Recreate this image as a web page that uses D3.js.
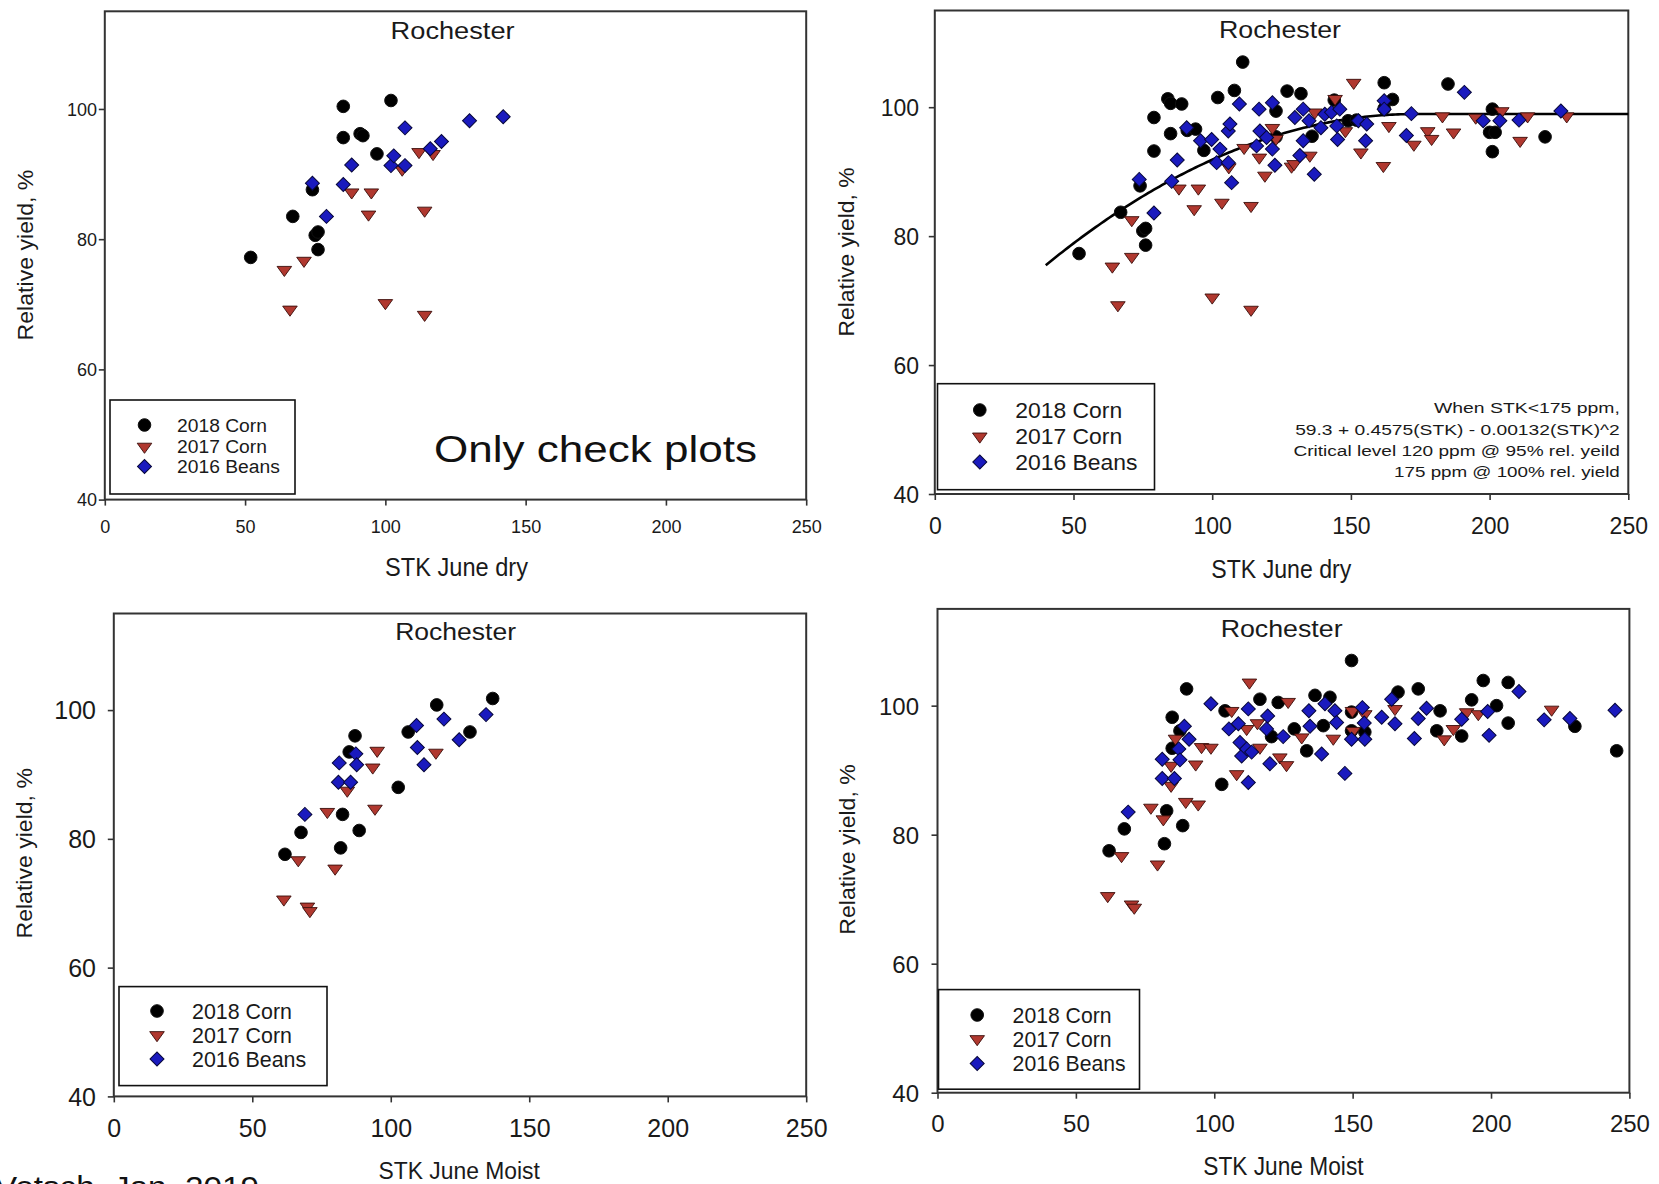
<!DOCTYPE html>
<html>
<head>
<meta charset="utf-8">
<script src="https://cdn.jsdelivr.net/npm/d3@7"></script>
<style>
  html, body { margin: 0; padding: 0; background: #fff; overflow: hidden; }
  svg { display: block; font-family: "Liberation Sans", Arial, sans-serif; }
</style>
</head>
<body>
<svg id="chart" width="1659" height="1184"></svg>
<script>
// ---- series, ticks and labels ----
const seriesNames = ["2018 Corn", "2017 Corn", "2016 Beans"];
const xTicks = [0, 50, 100, 150, 200, 250];
const yTicks = [40, 60, 80, 100];
const siteName = "Rochester";
const yTitleText = "Relative yield, %";

// STK June dry vs relative yield, check plots only  [STK ppm, rel. yield %]
const dryCheckCorn2018 = [[52,77.2],[67,83.5],[74,87.6],[75,80.6],[76,81.1],[76,78.4],[85,100.4],[85,95.6],[91,96.2],[92,95.9],[97,93.1],[102,101.3]];
const dryCheckCorn2017 = [[64,75.3],[66,69.2],[71,76.7],[88,87.2],[94,83.8],[95,87.2],[100,70.2],[106,90.7],[112,93.4],[114,84.4],[114,68.4],[117,93.1]];
const dryCheckBeans2016 = [[74,88.6],[79,83.5],[85,88.4],[88,91.4],[102,91.3],[103,92.8],[107,91.3],[107,97.1],[116,93.9],[120,95.0],[130,98.2],[142,98.8]];

// STK June dry vs relative yield, all plots
const dryAllCorn2018 = [[52,77.3],[67,83.7],[74,87.8],[75,80.8],[76,81.2],[76,78.6],[79,93.2],[79,98.4],[84,101.3],[85,100.6],[89,100.5],[85,95.9],[91,96.4],[94,96.6],[97,93.3],[102,101.5],[108,102.6],[111,107.0],[123,99.4],[123,95.4],[127,102.5],[132,102.1],[136,95.5],[144,101.1],[149,97.9],[152,98.0],[162,103.8],[165,101.2],[162,99.8],[185,103.6],[201,99.7],[200,96.1],[202,96.1],[201,93.1],[220,95.4]];
const dryAllCorn2017 = [[64,75.3],[66,69.3],[71,76.8],[71,82.5],[88,87.4],[93.5,84.2],[95,87.4],[100,70.5],[103.5,85.2],[106,90.7],[111.5,93.7],[114,84.7],[114,68.6],[117,92.2],[119,89.4],[121.7,96.8],[123,95.1],[128.6,90.8],[129.5,91.2],[135.2,92.5],[137,99.2],[144.3,101.3],[148,96.3],[151,103.8],[153.6,93.0],[161.7,90.9],[163.7,97.1],[172.7,94.2],[177.7,96.3],[179.1,95.1],[183,98.6],[187,96.1],[195,98.4],[204.4,99.4],[211,94.8],[213.7,98.6],[227.8,98.6]];
const dryAllBeans2016 = [[73.7,88.8],[79,83.6],[85.4,88.5],[87.4,91.8],[90.8,96.8],[95.8,94.8],[99.8,95.0],[101.6,91.4],[102.8,93.5],[105.8,91.4],[107,88.3],[105.8,96.3],[106.4,97.4],[109.8,100.5],[116.9,99.7],[116,94.0],[117.2,96.3],[119.6,95.3],[121.7,100.7],[121.7,93.5],[122.6,91.0],[129.8,98.4],[131.6,92.5],[132.8,99.7],[132.8,94.8],[134.9,97.9],[136.8,89.6],[139.2,96.8],[140.6,98.9],[143,99.2],[144.9,97.1],[145.2,95.0],[146,99.7],[152.7,97.9],[155.7,97.4],[155.3,94.8],[162,101.0],[162,99.7],[170,95.6],[171.8,99.0],[190.9,102.3],[197.7,97.9],[203.7,97.9],[210.6,98.0],[225.7,99.4]];

// STK June moist vs relative yield, check plots only
const moistCheckCorn2018 = [[61.8,77.6],[67.6,81.0],[81.9,78.6],[82.6,83.8],[85,93.5],[87.1,96.0],[88.6,81.3],[102.7,88.0],[106.3,96.6],[116.6,100.8],[128.6,96.6],[136.8,101.8]];
const moistCheckCorn2017 = [[61.4,70.6],[66.6,76.7],[69.9,69.5],[70.8,68.8],[77.1,84.2],[79.9,75.4],[84.3,87.5],[93.5,91.1],[94.3,84.7],[95.1,93.7],[116.3,93.4]];
const moistCheckBeans2016 = [[69,83.8],[81.1,88.8],[81.4,91.8],[85.5,88.8],[87.4,93.2],[87.7,91.5],[109.3,97.6],[109.6,94.2],[112,91.5],[119.2,98.6],[124.7,95.4],[134.4,99.3]];

// STK June moist vs relative yield, all plots
const moistAllCorn2018 = [[62,77.5],[67.5,80.9],[82,78.6],[82.8,83.7],[84.8,93.4],[84.8,98.2],[87.6,96.1],[88.6,81.4],[90,102.6],[102.7,87.8],[103.9,99.2],[116.5,101.0],[120.7,95.2],[123.1,100.5],[128.9,96.4],[133.4,93.0],[136.4,101.6],[139.4,96.9],[141.8,101.3],[149.6,107.0],[149.6,99.0],[149.6,96.1],[154.4,95.9],[166.4,102.1],[173.7,102.6],[180.4,96.1],[181.6,99.2],[189.4,95.3],[193,100.9],[197.2,103.9],[202,100.0],[206.2,103.6],[206.2,97.3],[230.3,96.8],[245.4,93.0]];
const moistAllCorn2017 = [[61.5,70.5],[66.5,76.7],[70.1,69.2],[71.1,68.7],[77.1,84.2],[79.5,75.4],[81.6,82.4],[84.4,87.6],[84.4,90.7],[86,94.9],[89.7,85.1],[93.3,90.9],[94.2,84.7],[95.4,93.6],[98.8,93.5],[106.3,99.2],[108.1,89.4],[111.7,96.4],[112.7,103.6],[115.6,97.3],[116.5,93.5],[123.7,92.0],[126.1,90.8],[126.7,100.6],[131.6,95.1],[143,94.9],[149.9,99.2],[150.2,96.1],[154.4,98.7],[165.3,99.5],[183.1,94.8],[186.4,96.4],[191.2,99.0],[195.4,98.7],[221.9,99.4]];
const moistAllBeans2016 = [[68.9,83.5],[81.2,91.7],[81.2,88.7],[85.6,88.7],[87.2,93.3],[87.6,91.6],[89.2,96.8],[90.9,94.8],[98.8,100.3],[105.3,96.4],[108.7,97.2],[109.3,94.3],[109.9,92.2],[111.7,93.3],[112.3,99.5],[112.3,88.1],[113.5,92.8],[118.9,96.4],[119.3,98.4],[120.1,91.0],[124.9,95.2],[134.2,99.2],[134.6,96.8],[138.8,92.5],[140,100.3],[143.6,99.2],[144.2,97.4],[147.2,89.5],[149.6,94.8],[153.5,99.7],[154.2,97.3],[154.4,94.8],[160.5,98.2],[164.1,101.0],[165.3,97.2],[172.3,94.9],[173.7,98.0],[176.7,99.6],[189.4,97.9],[198.8,99.1],[199.3,95.4],[210.1,102.2],[219.2,97.8],[228.5,98.0],[244.8,99.3]];

// Quadratic-plateau fit shown on the dry all-plots panel
const fitCoef = [59.3, 0.4575, -0.00132];   // a + b*STK + c*STK^2
const fitRange = [40, 250];
const fitJoin = 175;                          // plateau beyond this STK
const fitNotes = [
  "When STK<175 ppm,",
  "59.3 + 0.4575(STK) - 0.00132(STK)^2",
  "Critical level 120 ppm @ 95% rel. yeild",
  "175 ppm @ 100% rel. yield"
];
const panelNote = "Only check plots";
const footerNote = "Vetsch, Jan. 2019";

// ---- layout ----
const panels = [
  { series: [dryCheckCorn2018, dryCheckCorn2017, dryCheckBeans2016], xTitle: "STK June dry",
    box: { l: 104.8, r: 806.2, t: 11.3, b: 499.6 },
    title: { x: 452.6, y: 38.6, size: 23, len: 124 },
    xLab: { x: 456.5, y: 575.5, size: 25, len: 143 },
    yLab: { x: 32.8, y: 255, size: 22.5, len: 171 },
    ticks: { size: 18, xBase: 533.5, yRight: 97 },
    legend: { l: 110, t: 400, w: 185, h: 94, mx: 144.5, tx: 177, rows: [425, 446.6, 466.5], size: 19, len: 90 } },
  { series: [dryAllCorn2018, dryAllCorn2017, dryAllBeans2016], xTitle: "STK June dry", fit: true,
    box: { l: 934.8, r: 1628.3, t: 10.5, b: 494 },
    title: { x: 1280, y: 37.6, size: 23, len: 122 },
    xLab: { x: 1281.3, y: 577.5, size: 25, len: 140 },
    yLab: { x: 853.8, y: 252, size: 22.5, len: 169 },
    ticks: { size: 23, xBase: 534.2, yRight: 919 },
    legend: { l: 937.5, t: 383.7, w: 217, h: 106, mx: 979.8, tx: 1015.3, rows: [410, 436.4, 462], size: 22, len: 107 } },
  { series: [moistCheckCorn2018, moistCheckCorn2017, moistCheckBeans2016], xTitle: "STK June Moist",
    box: { l: 113.8, r: 806.2, t: 613.5, b: 1096.4 },
    title: { x: 455.6, y: 640, size: 24, len: 121 },
    xLab: { x: 459.2, y: 1179, size: 24, len: 161.5 },
    yLab: { x: 31.8, y: 853.3, size: 22.5, len: 170.5 },
    ticks: { size: 25, xBase: 1137.4, yRight: 96 },
    legend: { l: 119, t: 986.6, w: 208, h: 99, mx: 157, tx: 192, rows: [1011, 1035, 1059], size: 21.5, len: 100 } },
  { series: [moistAllCorn2018, moistAllCorn2017, moistAllBeans2016], xTitle: "STK June Moist",
    box: { l: 937.5, r: 1629.4, t: 608.9, b: 1092.7 },
    title: { x: 1281.6, y: 637.3, size: 24, len: 122 },
    xLab: { x: 1283.4, y: 1175.2, size: 25, len: 160.4 },
    yLab: { x: 854.9, y: 849.5, size: 22.5, len: 170.5 },
    ticks: { size: 24, xBase: 1131.7, yRight: 919 },
    legend: { l: 938.5, t: 989.6, w: 201, h: 99.6, mx: 977.2, tx: 1012.6, rows: [1015, 1039, 1063.5], size: 21.5, len: 99 } }
];

const markerStyle = [
  { type: d3.symbolCircle, size: 125, fill: "#000000", stroke: "#111111", rot: 0, sy: 1 },
  { type: d3.symbolTriangle, size: 92, fill: "#b0382f", stroke: "#3a0d0a", rot: 180, sy: 0.8 },
  { type: d3.symbolSquare, size: 98, fill: "#1a1abe", stroke: "#07073a", rot: 45, sy: 1 }
];

const svg = d3.select("#chart");

// text helper: places a string and stretches it horizontally to a target length
function putText(parent, str, o) {
  const g = parent.append("g")
    .attr("transform", `translate(${o.x},${o.y})` + (o.rotate ? ` rotate(${o.rotate})` : ""));
  const t = g.append("text")
    .attr("text-anchor", o.anchor || "middle")
    .attr("font-size", o.size)
    .attr("fill", o.fill || "#1a1a1a")
    .text(str);
  if (o.len || o.sx) {
    const sx = o.sx || o.len / t.node().getComputedTextLength();
    t.attr("transform", `scale(${sx},1)`);
    return sx;
  }
  return 1;
}

function markerTransform(st, px, py) {
  return `translate(${px},${py}) rotate(${st.rot}) scale(1,${st.sy})`;
}

panels.forEach(p => {
  const g = svg.append("g");
  const x = d3.scaleLinear().domain([0, 250]).range([p.box.l, p.box.r]);
  const y = d3.scaleLinear().domain([40, 115]).range([p.box.b, p.box.t]);

  // axes
  const ax = g.append("g").attr("transform", `translate(0,${p.box.b})`)
    .call(d3.axisBottom(x).tickValues(xTicks).tickSize(6).tickSizeOuter(0));
  const ay = g.append("g").attr("transform", `translate(${p.box.l},0)`)
    .call(d3.axisLeft(y).tickValues(yTicks).tickSize(6).tickSizeOuter(0));
  [ax, ay].forEach(a => {
    a.select(".domain").remove();
    a.selectAll(".tick line").attr("stroke", "#333").attr("stroke-width", 1.6);
    a.selectAll(".tick text").attr("font-size", p.ticks.size).attr("fill", "#1a1a1a")
      .attr("font-family", "Liberation Sans, Arial, sans-serif");
  });
  ax.selectAll(".tick text").attr("dy", null).attr("y", p.ticks.xBase - p.box.b);
  ay.selectAll(".tick text").attr("x", p.ticks.yRight - p.box.l).attr("dy", "0.35em");

  // frame
  g.append("rect")
    .attr("x", p.box.l).attr("y", p.box.t)
    .attr("width", p.box.r - p.box.l).attr("height", p.box.b - p.box.t)
    .attr("fill", "none").attr("stroke", "#333").attr("stroke-width", 2);

  // fitted curve
  if (p.fit) {
    const peak = fitCoef[0] + fitCoef[1] * fitJoin + fitCoef[2] * fitJoin * fitJoin;
    const f = s => s < fitJoin ? fitCoef[0] + fitCoef[1] * s + fitCoef[2] * s * s : peak;
    const xs = d3.range(fitRange[0], fitRange[1] + 0.001, 1);
    g.append("path")
      .datum(xs)
      .attr("fill", "none").attr("stroke", "#000").attr("stroke-width", 2.6)
      .attr("d", d3.line().x(s => x(s)).y(s => y(f(s))));
  }

  // markers: corn 2018 first, beans 2016 on top
  p.series.forEach((arr, i) => {
    const st = markerStyle[i];
    g.append("g").selectAll("path").data(arr).join("path")
      .attr("d", d3.symbol().type(st.type).size(st.size))
      .attr("transform", d => markerTransform(st, x(d[0]), y(d[1])))
      .attr("fill", st.fill).attr("stroke", st.stroke).attr("stroke-width", 1);
  });

  // titles
  putText(g, siteName, { x: p.title.x, y: p.title.y, size: p.title.size, len: p.title.len });
  putText(g, p.xTitle, { x: p.xLab.x, y: p.xLab.y, size: p.xLab.size, len: p.xLab.len });
  putText(g, yTitleText, { x: p.yLab.x, y: p.yLab.y, size: p.yLab.size, len: p.yLab.len, rotate: -90 });

  // legend
  const L = p.legend;
  g.append("rect").attr("x", L.l).attr("y", L.t).attr("width", L.w).attr("height", L.h)
    .attr("fill", "#fff").attr("stroke", "#111").attr("stroke-width", 1.6);
  let sx = null;
  seriesNames.forEach((name, i) => {
    const st = markerStyle[i];
    g.append("path")
      .attr("d", d3.symbol().type(st.type).size(st.size))
      .attr("transform", markerTransform(st, L.mx, L.rows[i]))
      .attr("fill", st.fill).attr("stroke", st.stroke).attr("stroke-width", 1);
    const opts = { x: L.tx, y: L.rows[i] + L.size * 0.36, size: L.size, anchor: "start" };
    if (sx === null) { opts.len = L.len; sx = putText(g, name, opts); }
    else { opts.sx = sx; putText(g, name, opts); }
  });
});

// fit description, right-aligned inside the dry all-plots panel
const noteBase = [413.4, 434.8, 455.9, 477.4];
const noteLen = [186, 325, 326.6, 226];
fitNotes.forEach((line, i) => {
  putText(svg, line, { x: 1619.8, y: noteBase[i], size: 14.5, anchor: "end", len: noteLen[i] });
});

putText(svg, panelNote, { x: 434, y: 462, size: 36, anchor: "start", len: 323, fill: "#111" });
putText(svg, footerNote, { x: -5, y: 1197, size: 30, anchor: "start", len: 264, fill: "#111" });
</script>
</body>
</html>
